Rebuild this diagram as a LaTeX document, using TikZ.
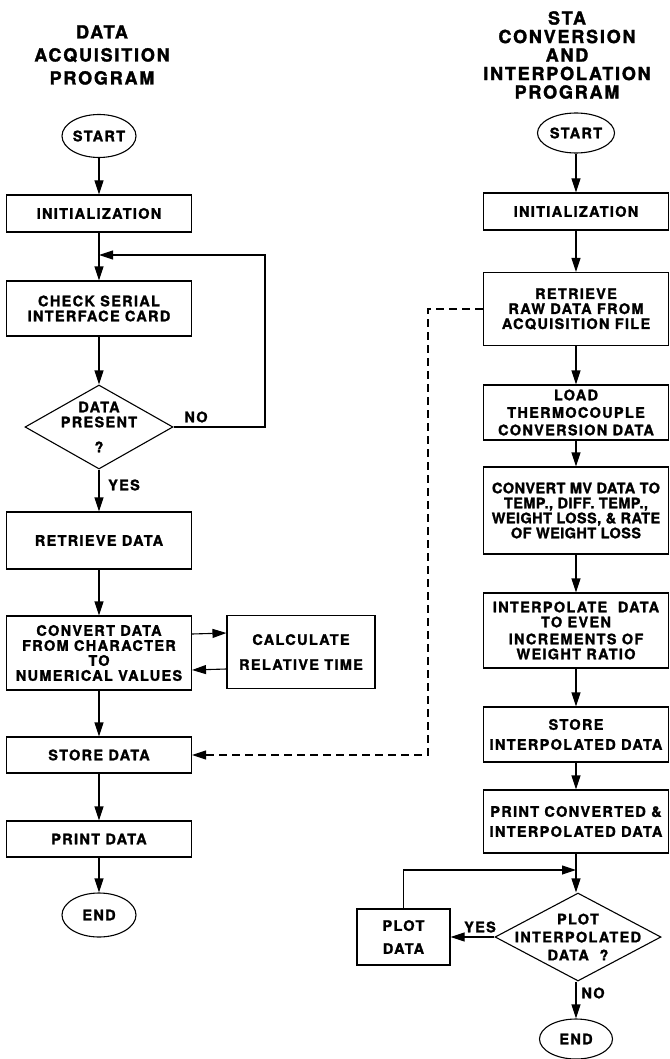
\documentclass[tikz,border=0pt]{standalone}
\usepackage{fontspec}
\usetikzlibrary{shapes.geometric,arrows.meta,calc}
\newfontfamily\chartfont[LetterSpace=9,FakeBold=1.5]{TeX Gyre Heros}
\newfontfamily\titlefont[LetterSpace=10,FakeBold=1.8]{TeX Gyre Heros}

\begin{document}
\begin{tikzpicture}[x=1pt,y=-1pt,
    txt/.style={font={\chartfont\bfseries\fontsize{14.5}{15}\selectfont},align=center,inner sep=0pt},
    box/.style={txt,draw,line width=1.1pt,rectangle},
    term/.style={txt,draw,line width=1.1pt,ellipse},
    decision/.style={draw,line width=1.1pt,diamond,inner sep=0pt,label={[txt]center:#1}},
    heading/.style={font={\titlefont\bfseries\fontsize{18}{#1}\selectfont},align=center,inner sep=0pt},
    flow/.style={-{Triangle[length=14pt,width=9pt]},line width=1.1pt},
    dashflow/.style={flow,dash pattern=on 8pt off 5pt}]
    \useasboundingbox (0,0) rectangle (669,1059);

    % Titles
    \node[heading=23] (ltitle) at (102,55) {DATA\\ACQUISITION\\PROGRAM};
    \node[heading=18.5] (rtitle) at (567,55) {STA\\CONVERSION\\AND\\INTERPOLATION\\PROGRAM};

    % Data acquisition program
    \node[term,minimum width=74pt,minimum height=43pt] (lstart) at (99,136) {START};
    \node[box,minimum width=185pt,minimum height=37pt] (linit) at (99,213.5) {INITIALIZATION};
    \node[box,minimum width=185pt,minimum height=55pt] (lcheck) at (99,308.5) {CHECK SERIAL\\INTERFACE CARD};
    \node[decision={DATA\\PRESENT\\[10pt]?},minimum width=148pt,minimum height=84pt] (ldec) at (99,427) {};
    \node[box,minimum width=185pt,minimum height=57pt] (lret) at (99,540.5) {RETRIEVE DATA};
    \node[box,minimum width=185pt,minimum height=74pt] (lconv) at (99,653) {CONVERT DATA\\FROM CHARACTER\\TO\\NUMERICAL VALUES};
    \node[box,minimum width=148pt,minimum height=73pt] (lcalc) at (301,652) {CALCULATE\\[10pt]RELATIVE TIME};
    \node[box,minimum width=185pt,minimum height=36pt] (lstore) at (99,755) {STORE DATA};
    \node[box,minimum width=185pt,minimum height=36pt] (lprint) at (99,839) {PRINT DATA};
    \node[term,minimum width=74pt,minimum height=44pt] (lend) at (99,915) {END};
    \node[txt] (lno) at (196,417) {NO};
    \node[txt] (lyes) at (124,485) {YES};
    \coordinate (lturn) at (265,255);
    \coordinate (lloop) at (99,255);

    \draw[flow] (lstart) -- (linit);
    \draw[flow] (linit) -- (lcheck);
    \draw[flow] (lcheck) -- (ldec);
    \draw[flow] (ldec.east) -| (lturn) -- (lloop);
    \draw[flow] (ldec) -- (lret);
    \draw[flow] (lret) -- (lconv);
    \draw[flow] ([yshift=19pt]lconv.east) -- ([yshift=19pt]lcalc.west);
    \draw[flow] ([yshift=-17pt]lcalc.west) -- ([yshift=-17pt]lconv.east);
    \draw[flow] (lconv) -- (lstore);
    \draw[flow] (lstore) -- (lprint);
    \draw[flow] (lprint) -- (lend);

    % Conversion and interpolation program
    \node[term,minimum width=77pt,minimum height=40pt] (rstart) at (576,133) {START};
    \node[box,minimum width=185pt,minimum height=37pt] (rinit) at (576,211.5) {INITIALIZATION};
    \node[box,minimum width=185pt,minimum height=73pt] (rret) at (576,309) {RETRIEVE\\RAW DATA FROM\\ACQUISITION FILE};
    \node[box,minimum width=185pt,minimum height=55pt] (rload) at (576,412.5) {LOAD\\[2.5pt]THERMOCOUPLE\\[2.5pt]CONVERSION DATA};
    \node[box,minimum width=185pt,minimum height=87pt,font={\chartfont\bfseries\addfontfeature{LetterSpace=3}\fontsize{14.5}{15}\selectfont}] (rconv) at (576,510.5) {CONVERT MV DATA TO\\TEMP., DIFF. TEMP.,\\WEIGHT LOSS, \& RATE\\OF WEIGHT LOSS};
    \node[box,minimum width=185pt,minimum height=75pt] (rinterp) at (576,630.5) {INTERPOLATE~~DATA\\TO EVEN\\[2pt]INCREMENTS OF\\WEIGHT RATIO};
    \node[box,minimum width=185pt,minimum height=55pt] (rstore) at (576,734.5) {STORE\\[5pt]INTERPOLATED DATA};
    \node[box,minimum width=185pt,minimum height=63pt] (rprint) at (576,821.5) {PRINT CONVERTED \&\\[5pt]INTERPOLATED DATA};
    \node[decision={PLOT\\[3pt]INTERPOLATED\\[3pt]DATA~~?},minimum width=166pt,minimum height=88pt] (rdec) at (578,937) {};
    \node[box,minimum width=93pt,minimum height=56pt] (rplot) at (403.5,937) {PLOT\\[8pt]DATA};
    \node[term,minimum width=73pt,minimum height=40pt] (rend) at (576,1039) {END};
    \node[txt] (ryes) at (480,927) {YES};
    \node[txt] (rno) at (593,993) {NO};
    \coordinate (rjoin) at (576,870);
    \coordinate (dcorner) at (428,755);

    \draw[flow] (rstart) -- (rinit);
    \draw[flow] (rinit) -- (rret);
    \draw[flow] (rret) -- (rload);
    \draw[flow] (rload) -- (rconv);
    \draw[flow] (rconv) -- (rinterp);
    \draw[flow] (rinterp) -- (rstore);
    \draw[flow] (rstore) -- (rprint);
    \draw[flow] (rprint) -- (rprint.south |- rdec.north);
    \draw[flow] (rdec.west) -- (rplot.east);
    \draw[flow] (rplot.north) |- (rjoin);
    \draw[flow] (rdec.south -| rend.north) -- (rend);

    % Link between the programs
    \draw[dashflow] (rret.west) -| (dcorner) -- (lstore.east);
\end{tikzpicture}
\end{document}
